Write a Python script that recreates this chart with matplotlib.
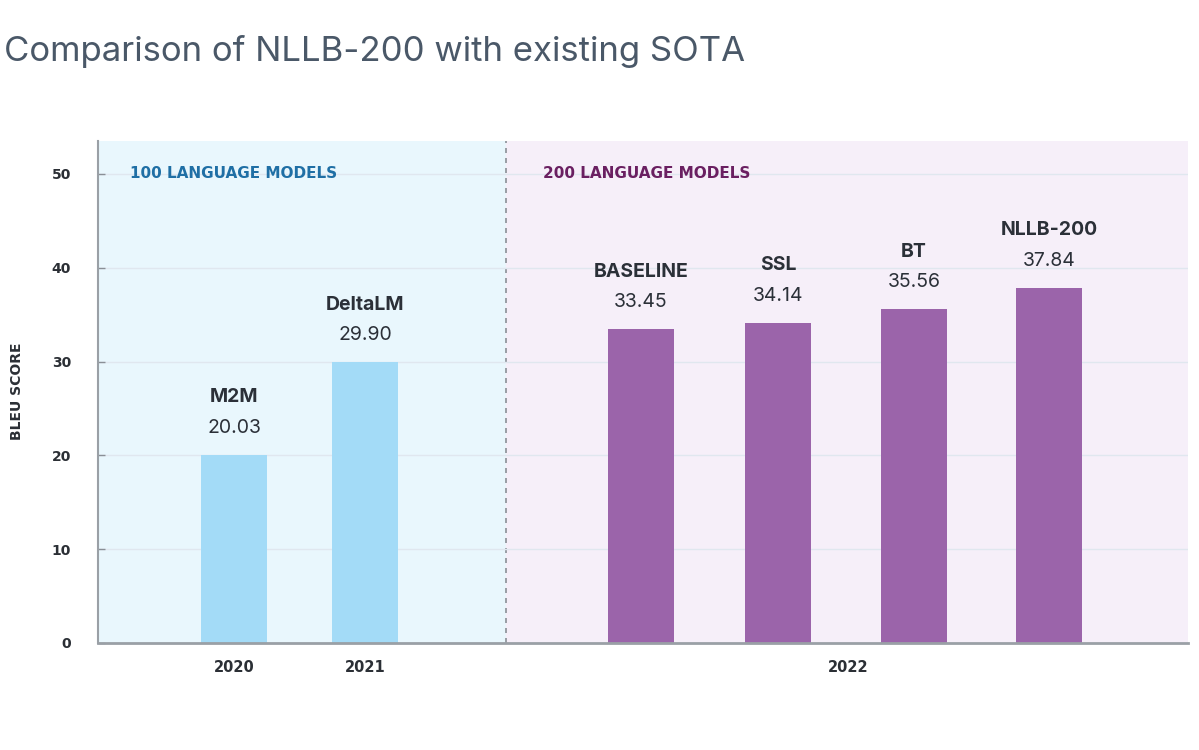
import matplotlib
matplotlib.use("Agg")
import matplotlib.pyplot as plt

# ---- data ----
models = ["M2M", "DeltaLM", "BASELINE", "SSL", "BT", "NLLB-200"]
scores = [20.03, 29.90, 33.45, 34.14, 35.56, 37.84]
model_group = [0, 0, 1, 1, 1, 1]
years = ["2020", "2021", "2022"]
groups = ["100 LANGUAGE MODELS", "200 LANGUAGE MODELS"]
yticks = [0, 10, 20, 30, 40, 50]

# ---- layout ----
W, H = 1199, 750
plt.rcParams["font.family"] = ["Inter", "DejaVu Sans"]
SMALL = ["DejaVu Sans"]
fig = plt.figure(figsize=(W / 100, H / 100), dpi=100)
ax_l, ax_r, ax_t, ax_b = 98, 1188, 141, 643
ax = fig.add_axes([ax_l / W, 1 - ax_b / H, (ax_r - ax_l) / W, (ax_b - ax_t) / H])

xpos = [234, 365, 641, 778, 914, 1049]
year_pos = [234, 365, 848]
divider = 506
bar_w = 66

ax.set_xlim(ax_l, ax_r)
ax.set_ylim(0, 53.5)

bg_cols = ["#e9f7fd", "#f6eff9"]
bar_cols = ["#a3dbf7", "#9b64aa"]
grp_txt_cols = ["#1f6fa5", "#6a1f61"]
ax.axvspan(ax_l, divider, color=bg_cols[0], zorder=0)
ax.axvspan(divider, ax_r, color=bg_cols[1], zorder=0)
ax.axvline(divider, color="#8a8f96", lw=1.2, ls=(0, (3, 3)), zorder=1)

for y in yticks[1:]:
    ax.axhline(y, color="#e0e7ef", lw=1.0, zorder=1)

for x, m, s, g in zip(xpos, models, scores, model_group):
    ax.bar(x, s, width=bar_w, color=bar_cols[g], zorder=2)
    ax.annotate(f"{s:.2f}", (x, s), xytext=(0, 13), textcoords="offset points",
                ha="center", va="bottom", fontsize=14, color="#2b3038")
    ax.annotate(m, (x, s), xytext=(0, 35), textcoords="offset points",
                ha="center", va="bottom", fontsize=14, fontweight="bold", color="#2b3038")

grp_x = [130, 543]
for gx, gname, gc in zip(grp_x, groups, grp_txt_cols):
    ax.text(gx, 50, gname, ha="left", va="center", fontsize=11, family=SMALL,
            fontweight="bold", color=gc, zorder=3)

ax.set_yticks(yticks)
ax.set_yticklabels([str(t) for t in yticks], fontsize=10, fontweight="bold",
                   color="#2b2f35", family=SMALL)
ax.tick_params(axis="y", direction="in", length=5, width=1, color="#8a8f96", pad=19.5)
ax.set_xticks(year_pos)
ax.set_xticklabels(years, fontsize=10.5, fontweight="bold", color="#2b2f35", family=SMALL)
ax.tick_params(axis="x", length=0, pad=12)

for sp in ["top", "right"]:
    ax.spines[sp].set_visible(False)
ax.spines["left"].set_color("#9aa0a6")
ax.spines["left"].set_linewidth(1.5)
ax.spines["bottom"].set_color("#9aa0a6")
ax.spines["bottom"].set_linewidth(2)

fig.text(17 / W, 1 - 391 / H, "BLEU SCORE", rotation=90, ha="center", va="center",
         fontsize=10, fontweight="bold", color="#2b2f35", family=SMALL)
fig.text(4 / W, 1 - 52 / H, "Comparison of NLLB-200 with existing SOTA", ha="left",
         va="center", fontsize=25, color="#4a5868")

fig.savefig("out.png", dpi=100)
